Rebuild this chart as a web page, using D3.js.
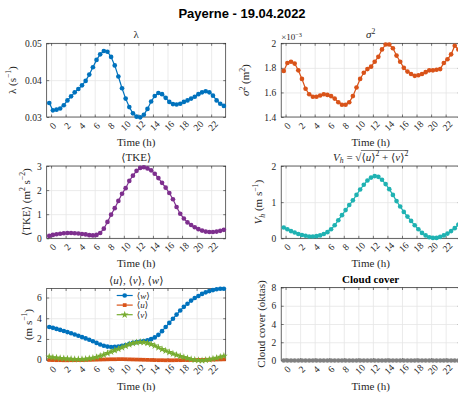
<html>
<head>
<script src="https://cdn.jsdelivr.net/npm/d3@7"></script>
<style>
body { margin: 0; background: #fff; }
text { font-family: "Liberation Serif", "DejaVu Serif", serif; fill: #262626; }
.grid line { stroke: #e6e6e6; stroke-width: 0.8px; }
.grid path { display: none; }
.ax path { display: none; }
.ax line { stroke: #262626; stroke-width: 0.6px; }
.ax text { font-size: 9.5px; font-family: "Liberation Serif", serif; }
</style>
</head>
<body>
<div id="chart"></div>
<script>
// half-hour time stamps (h)
const hours = [-0.25, 0.25, 0.75, 1.25, 1.75, 2.25, 2.75, 3.25, 3.75, 4.25, 4.75, 5.25, 5.75, 6.25, 6.75, 7.25, 7.75,
    8.25, 8.75, 9.25, 9.75, 10.25, 10.75, 11.25, 11.75, 12.25, 12.75, 13.25, 13.75, 14.25, 14.75, 15.25, 15.75,
    16.25, 16.75, 17.25, 17.75, 18.25, 18.75, 19.25, 19.75, 20.25, 20.75, 21.25, 21.75, 22.25, 22.75, 23.25, 23.75];

const lambda = [0.0338, 0.0318, 0.0320, 0.0323, 0.0332, 0.0345, 0.0356, 0.0367, 0.0376, 0.0386, 0.0398, 0.0415, 0.0435,
    0.0455, 0.0470, 0.0479, 0.0477, 0.0463, 0.0440, 0.0410, 0.0378, 0.0350, 0.0327, 0.0310, 0.0301, 0.0299, 0.0306,
    0.0322, 0.0342, 0.0357, 0.0365, 0.0362, 0.0352, 0.0341, 0.0335, 0.0334, 0.0336, 0.0341, 0.0345, 0.0350, 0.0355,
    0.0362, 0.0367, 0.0370, 0.0367, 0.0358, 0.0345, 0.0336, 0.0330];

// sigma^2 in units of 1e-3 m^2
const sigma2 = [1.775, 1.84, 1.85, 1.835, 1.78, 1.71, 1.63, 1.585, 1.565, 1.565, 1.575, 1.585, 1.58, 1.57, 1.55, 1.52,
    1.50, 1.50, 1.52, 1.57, 1.64, 1.71, 1.76, 1.79, 1.81, 1.85, 1.89, 1.95, 1.99, 1.99, 1.96, 1.90, 1.85, 1.80, 1.77,
    1.75, 1.735, 1.74, 1.75, 1.765, 1.78, 1.78, 1.785, 1.79, 1.84, 1.87, 1.91, 1.98, 1.95];

const tke = [0.10, 0.14, 0.17, 0.19, 0.21, 0.22, 0.22, 0.21, 0.20, 0.18, 0.16, 0.13, 0.12, 0.14, 0.22, 0.40, 0.68, 0.98,
    1.25, 1.55, 1.85, 2.08, 2.38, 2.6, 2.8, 2.92, 2.95, 2.9, 2.82, 2.68, 2.5, 2.3, 2.1, 1.88, 1.62, 1.3, 1.02, 0.82,
    0.66, 0.55, 0.46, 0.38, 0.32, 0.28, 0.26, 0.26, 0.28, 0.31, 0.35];

const vh = [0.30, 0.25, 0.20, 0.16, 0.12, 0.09, 0.07, 0.05, 0.05, 0.06, 0.08, 0.12, 0.17, 0.25, 0.36, 0.5, 0.64, 0.78,
    0.92, 1.05, 1.2, 1.35, 1.48, 1.6, 1.68, 1.72, 1.70, 1.62, 1.5, 1.36, 1.2, 1.03, 0.88, 0.73, 0.6, 0.48, 0.36, 0.25,
    0.15, 0.08, 0.03, 0.01, 0.01, 0.04, 0.08, 0.13, 0.2, 0.28, 0.38];

const wMean = [3.15, 3.07, 2.97, 2.87, 2.77, 2.66, 2.55, 2.43, 2.31, 2.18, 2.05, 1.92, 1.78, 1.62, 1.46, 1.34, 1.26,
    1.22, 1.23, 1.27, 1.33, 1.42, 1.52, 1.62, 1.70, 1.75, 1.8, 1.87, 1.98, 2.15, 2.4, 2.75, 3.15, 3.55, 3.95, 4.35,
    4.75, 5.1, 5.4, 5.7, 5.95, 6.15, 6.35, 6.5, 6.62, 6.72, 6.8, 6.85, 6.85];

const uMean = [-0.03, -0.04, -0.05, -0.05, -0.06, -0.06, -0.05, -0.05, -0.04, -0.04, -0.03, -0.02, -0.01, 0.0, 0.01,
    0.02, 0.03, 0.04, 0.04, 0.05, 0.05, 0.04, 0.03, 0.02, 0.01, 0.0, -0.01, -0.02, -0.03, -0.04, -0.05, -0.05, -0.06,
    -0.06, -0.06, -0.05, -0.05, -0.04, -0.04, -0.03, -0.03, -0.02, -0.02, -0.01, -0.01, 0.0, 0.01, 0.02, 0.03];

const vMean = [0.28, 0.22, 0.18, 0.14, 0.11, 0.08, 0.06, 0.04, 0.04, 0.05, 0.07, 0.11, 0.16, 0.24, 0.35, 0.48, 0.62,
    0.76, 0.9, 1.03, 1.18, 1.33, 1.46, 1.58, 1.66, 1.70, 1.68, 1.6, 1.48, 1.34, 1.18, 1.01, 0.86, 0.71, 0.58, 0.46,
    0.34, 0.23, 0.13, 0.05, -0.02, -0.06, -0.07, -0.04, 0.02, 0.08, 0.16, 0.25, 0.35];

const cloud = [0, 0, 0, 0, 0, 0, 0, 0, 0, 0, 0, 0, 0, 0, 0, 0, 0, 0, 0, 0, 0, 0, 0, 0, 0, 0, 0, 0, 0, 0, 0, 0, 0, 0,
    0, 0, 0, 0, 0, 0, 0, 0, 0, 0, 0, 0, 0, 0, 0];

const xTicks = [0, 2, 4, 6, 8, 10, 12, 14, 16, 18, 20, 22];
const lambdaTicks = [0.03, 0.04, 0.05];
const lambdaTickLabels = ["0.03", "0.04", "0.05"];
const sigmaTicks = [1.4, 1.6, 1.8, 2.0];
const sigmaTickLabels = ["1.4", "1.6", "1.8", "2"];
const tkeTicks = [0, 1, 2, 3];
const vhTicks = [0, 1, 2];
const windTicks = [0, 2, 4, 6];
const cloudTicks = [0, 2, 4, 6, 8];

const W = 458, H = 396;
const svg = d3.select("#chart").append("svg").attr("width", W).attr("height", H);

const FS = 11; // label font size

// text made of pieces: {t, i (italic), sup, sub}
function rich(textSel, parts, size) {
    var cur = 0;
    parts.forEach(p => {
        var target = p.sup ? -size * 0.42 : (p.sub ? size * 0.22 : 0);
        var ts = textSel.append("tspan").text(p.t);
        if (target - cur !== 0) ts.attr("dy", target - cur);
        cur = target;
        if (p.sup || p.sub) ts.style("font-size", (size * 0.7) + "px");
        if (p.i) ts.style("font-style", "italic");
    });
    return textSel;
}

function panel(o) {
    const g = svg.append("g").attr("transform", "translate(" + o.left + "," + o.top + ")");
    const x = d3.scaleLinear().domain([-0.6, 24.0]).range([0, o.w]);
    const y = d3.scaleLinear().domain(o.yDomain).range([o.h, 0]);

    // grid
    g.append("g").attr("class", "grid").attr("transform", "translate(0," + o.h + ")")
        .call(d3.axisBottom(x).tickValues(xTicks).tickSize(-o.h).tickFormat(""));
    g.append("g").attr("class", "grid")
        .call(d3.axisLeft(y).tickValues(o.yTicks).tickSize(-o.w).tickFormat(""));

    // ticks on all four sides, pointing in
    const xb = g.append("g").attr("class", "ax").attr("transform", "translate(0," + o.h + ")")
        .call(d3.axisBottom(x).tickValues(xTicks).tickSize(-2.5));
    xb.selectAll("text")
        .attr("y", 9).attr("x", 1.5).attr("dy", null)
        .attr("text-anchor", "middle").attr("dominant-baseline", "central")
        .attr("transform", "rotate(-45,1.5,9)");
    g.append("g").attr("class", "ax").call(d3.axisTop(x).tickValues(xTicks).tickSize(-2.5).tickFormat(""));
    g.append("g").attr("class", "ax")
        .call(d3.axisLeft(y).tickValues(o.yTicks).tickSize(-2.5).tickPadding(5)
            .tickFormat((d, i) => o.yTickLabels ? o.yTickLabels[i] : d));
    g.append("g").attr("class", "ax").attr("transform", "translate(" + o.w + ",0)")
        .call(d3.axisRight(y).tickValues(o.yTicks).tickSize(-2.5).tickFormat(""));
    g.selectAll(".ax, .grid").attr("font-family", null).attr("font-size", null);

    g.append("rect").attr("width", o.w).attr("height", o.h)
        .attr("fill", "none").attr("stroke", "#262626").attr("stroke-width", 0.7);

    // series
    o.series.forEach(s => {
        const pts = hours.map((h, i) => [h, s.values[i]]);
        g.append("path").datum(pts)
            .attr("d", d3.line().x(d => x(d[0])).y(d => y(d[1])))
            .attr("fill", "none").attr("stroke", s.color).attr("stroke-width", 1.2);
        g.selectAll(null).data(pts).enter().append("path")
            .attr("d", d3.symbol().type(s.symbol || d3.symbolCircle).size(s.size || 17))
            .attr("transform", d => "translate(" + x(d[0]) + "," + y(d[1]) + ")")
            .attr("fill", s.color);
    });

    // x label
    g.append("text").attr("x", o.w / 2).attr("y", o.h + 29).attr("text-anchor", "middle")
        .style("font-size", FS + "px").text("Time (h)");

    // y label
    const yl = g.append("text").attr("text-anchor", "middle")
        .attr("transform", "translate(" + (-o.yOff) + "," + (o.h / 2) + ") rotate(-90)")
        .style("font-size", FS + "px");
    rich(yl, o.ylabel, FS);

    // title
    if (o.title) {
        const tt = g.append("text").attr("x", o.w / 2).attr("y", -5).attr("text-anchor", "middle")
            .style("font-size", FS + "px");
        if (o.titleBold) tt.style("font-weight", "bold").style("fill", "#000");
        rich(tt, o.title, FS);
    }
    return { g: g, x: x, y: y };
}

const blue = "#0072BD", orange = "#D95319", purple = "#7E2F8E", teal = "#1FB2B2", green = "#77AC30", grey = "#808080";
const L = 46.7, R = 281.2, PW = 179;

svg.append("text").attr("x", 242).attr("y", 18).attr("text-anchor", "middle")
    .style("font-family", "'Liberation Sans', Arial, sans-serif").style("font-weight", "bold")
    .style("font-size", "13px").style("fill", "#000")
    .text("Payerne - 19.04.2022");

panel({ left: L, top: 43.3, w: PW, h: 73.7, yDomain: [0.03, 0.05], yTicks: lambdaTicks, yTickLabels: lambdaTickLabels,
    yOff: 31, ylabel: [{ t: "λ (s" }, { t: "−1", sup: true }, { t: ")" }], title: [{ t: "λ" }],
    series: [{ values: lambda, color: blue }] });

const p2 = panel({ left: R, top: 43.3, w: PW, h: 73.7, yDomain: [1.4, 2.0], yTicks: sigmaTicks, yTickLabels: sigmaTickLabels,
    yOff: 32, ylabel: [{ t: "σ", i: true }, { t: "2", sup: true }, { t: " (m" }, { t: "2", sup: true }, { t: ")" }],
    title: [{ t: "σ", i: true }, { t: "2", sup: true }],
    series: [{ values: sigma2, color: orange }] });
rich(p2.g.append("text").attr("x", 0).attr("y", -3).style("font-size", "9px"),
    [{ t: "×10" }, { t: "−3", sup: true }], 9);

panel({ left: L, top: 166, w: PW, h: 72.3, yDomain: [0, 3], yTicks: tkeTicks,
    yOff: 17, ylabel: [{ t: "⟨TKE⟩ (m" }, { t: "2", sup: true }, { t: " s" }, { t: "−2", sup: true }, { t: ")" }],
    title: [{ t: "⟨TKE⟩" }],
    series: [{ values: tke, color: purple }] });

const p4 = panel({ left: R, top: 166, w: PW, h: 72.3, yDomain: [0, 2], yTicks: vhTicks,
    yOff: 19, ylabel: [{ t: "V", i: true }, { t: "h", sub: true, i: true }, { t: " (m s" }, { t: "−1", sup: true }, { t: ")" }],
    series: [{ values: vh, color: teal }] });
// title with square root
(function () {
    const tg = p4.g.append("g");
    const t1 = tg.append("text").attr("x", 0).attr("y", -5).style("font-size", FS + "px");
    rich(t1, [{ t: "V", i: true }, { t: "h", sub: true, i: true }, { t: " = √" }], FS);
    const w1 = t1.node().getComputedTextLength();
    const t2 = tg.append("text").attr("x", w1).attr("y", -5).style("font-size", FS + "px");
    rich(t2, [{ t: "⟨" }, { t: "u", i: true }, { t: "⟩" }, { t: "2", sup: true }, { t: " + ⟨" }, { t: "v", i: true },
        { t: "⟩" }, { t: "2", sup: true }], FS);
    const w2 = t2.node().getComputedTextLength();
    tg.append("line").attr("x1", w1 - 0.5).attr("x2", w1 + w2).attr("y1", -15.5).attr("y2", -15.5)
        .attr("stroke", "#262626").attr("stroke-width", 0.6);
    tg.attr("transform", "translate(" + (PW / 2 - (w1 + w2) / 2) + ",0)");
})();

const p5 = panel({ left: L, top: 288.5, w: PW, h: 72, yDomain: [-0.08, 6.87], yTicks: windTicks,
    yOff: 15, ylabel: [{ t: "(m s" }, { t: "−1", sup: true }, { t: ")" }],
    title: [{ t: "⟨" }, { t: "u", i: true }, { t: "⟩, ⟨" }, { t: "v", i: true }, { t: "⟩, ⟨" }, { t: "w", i: true }, { t: "⟩" }],
    series: [{ values: wMean, color: blue },
             { values: uMean, color: orange, symbol: d3.symbolSquare, size: 14 },
             { values: vMean, color: green, symbol: d3.symbolStar, size: 18 }] });

// legend
const legendItems = [
    { name: "w", color: blue, symbol: d3.symbolCircle, size: 17 },
    { name: "u", color: orange, symbol: d3.symbolSquare, size: 14 },
    { name: "v", color: green, symbol: d3.symbolStar, size: 18 }
];
const lg = p5.g.append("g").attr("transform", "translate(68,0)");
lg.append("rect").attr("x", -2).attr("y", 1.5).attr("width", 40).attr("height", 29).attr("fill", "#fff");
legendItems.forEach((d, i) => {
    const yy = 7 + i * 9.6;
    lg.append("line").attr("x1", 2).attr("x2", 18).attr("y1", yy).attr("y2", yy)
        .attr("stroke", d.color).attr("stroke-width", 1.2);
    lg.append("path").attr("d", d3.symbol().type(d.symbol).size(d.size))
        .attr("transform", "translate(10," + yy + ")").attr("fill", d.color);
    rich(lg.append("text").attr("x", 22).attr("y", yy + 3).style("font-size", "9px"),
        [{ t: "⟨" }, { t: d.name, i: true }, { t: "⟩" }], 9);
});

panel({ left: R, top: 287.5, w: PW, h: 73, yDomain: [0, 8], yTicks: cloudTicks,
    yOff: 16, ylabel: [{ t: "Cloud cover (oktas)" }], title: [{ t: "Cloud cover" }], titleBold: true,
    series: [{ values: cloud, color: grey }] });
</script>
</body>
</html>
